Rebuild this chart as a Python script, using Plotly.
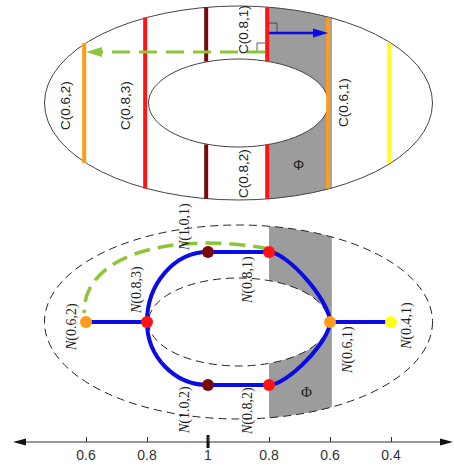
import numpy as np
import plotly.graph_objects as go

# ---------------- data ----------------
tick_index = [0, 1, 2, 3, 4, 5]
tick_labels = ["0.6", "0.8", "1", "0.8", "0.6", "0.4"]
column_level = ["0.6", "0.8", "1.0", "0.8", "0.6", "0.4"]

contour_labels = ["C(0.6,2)", "C(0.8,3)", "C(0.8,1)", "C(0.8,2)", "C(0.6,1)"]
node_labels = ["N(0.6,2)", "N(0.8,3)", "N(1.0,1)", "N(0.8,1)",
               "N(0.6,1)", "N(0.4,1)", "N(1.0,2)", "N(0.8,2)"]
node_level = ["0.6", "0.8", "1.0", "0.8", "0.6", "0.4", "1.0", "0.8"]
node_col = [0, 1, 2, 3, 4, 5, 2, 3]
node_row = ["mid", "mid", "top", "top", "mid", "mid", "bot", "bot"]
edges_straight = [(0, 1), (2, 3), (4, 5), (6, 7)]
edges_left = [(1, 2), (1, 6)]
edges_right = [(3, 4), (7, 4)]

level_color = {"0.4": "#FFFF1A", "0.6": "#FF9C1A", "0.8": "#FF1414", "1.0": "#7A0A0A"}
BLUE = "#0B0BE6"
GREEN = "#8CC43A"
GRAY = "#9C9C9C"

# ---------------- geometry (layout) ----------------
W, H = 454, 473
PX0, PXU = 86.0, 61.0
def u(px):
    return (px - PX0) / PXU

CX = 2.5
RX_IN = 90 / PXU
RX_OUT = 194 / PXU
CY_TOP, CY_BOT = 103, 322
RY_OUT, RY_IN = 97, 44
row_y = {"top": 252, "mid": 322, "bot": 385}
AXIS_Y = 442

def half(dx, rx, ry):
    v = 1 - (dx / rx) ** 2
    return ry * np.sqrt(max(v, 0))

shapes = []

def ring_slice(cy, a, b):
    us = np.linspace(a, b, 40)
    top = [(x, cy - half(x - CX, RX_OUT, RY_OUT)) for x in us]
    bot = [(x, cy + half(x - CX, RX_OUT, RY_OUT)) for x in us[::-1]]
    pts = top + bot
    return "M " + " L ".join(f"{x:.4f},{y:.2f}" for x, y in pts) + " Z"

for cy in (CY_TOP, CY_BOT):
    shapes.append(dict(type="path", path=ring_slice(cy, 3, 4.03), fillcolor=GRAY,
                       line=dict(width=0), layer="below"))
    shapes.append(dict(type="circle", x0=CX - RX_IN, x1=CX + RX_IN, y0=cy - RY_IN, y1=cy + RY_IN,
                       fillcolor="white", line=dict(width=0), layer="below"))

# top outlines
for rx, ry in ((RX_OUT, RY_OUT), (RX_IN, RY_IN)):
    shapes.append(dict(type="circle", x0=CX - rx, x1=CX + rx, y0=CY_TOP - ry, y1=CY_TOP + ry,
                       line=dict(color="#444444", width=1), layer="below"))
# bottom dashed outlines
for rx, ry in ((RX_OUT, RY_OUT), (RX_IN, RY_IN)):
    shapes.append(dict(type="circle", x0=CX - rx, x1=CX + rx, y0=CY_BOT - ry, y1=CY_BOT + ry,
                       line=dict(color="#222222", width=1, dash="8px,5px"), layer="below"))

# top contour lines
for i, lev in zip(tick_index, column_level):
    dx = i - CX
    ho = half(dx, RX_OUT, RY_OUT)
    col = level_color[lev]
    if abs(dx) < RX_IN - 0.03:
        hi = half(dx, RX_IN, RY_IN)
        segs = [(CY_TOP - ho, CY_TOP - hi), (CY_TOP + hi, CY_TOP + ho)]
    else:
        segs = [(CY_TOP - ho, CY_TOP + ho)]
    for y0, y1 in segs:
        shapes.append(dict(type="line", x0=i - 0.03, x1=i - 0.03, y0=y0, y1=y1,
                           line=dict(color=col, width=4), layer="below"))

# right-angle marks
shapes.append(dict(type="path", path=f"M {u(269)},{23} L {u(277)},{23} L {u(277)},{33}",
                   line=dict(color="#333", width=0.8), layer="below"))
shapes.append(dict(type="path", path=f"M {u(257)},{52} L {u(257)},{43} L {u(265)},{43}",
                   line=dict(color="#333", width=0.8), layer="below"))

# blue arrow
shapes.append(dict(type="line", x0=u(269), x1=u(315), y0=33, y1=33,
                   line=dict(color=BLUE, width=2.5), layer="below"))
shapes.append(dict(type="path", path=f"M {u(328)},33 L {u(313)},28.5 L {u(313)},37.5 Z",
                   fillcolor=BLUE, line=dict(width=0), layer="below"))
# green dashed arrow
shapes.append(dict(type="line", x0=u(265), x1=u(100), y0=52, y1=52,
                   line=dict(color=GREEN, width=3, dash="18px,9px"), layer="below"))
shapes.append(dict(type="path", path=f"M {u(86)},52 L {u(102)},47 L {u(102)},57 Z",
                   fillcolor=GREEN, line=dict(width=0), layer="below"))

# network edges
def P(k):
    return node_col[k], row_y[node_row[k]]

for a, b in edges_straight:
    (x0, y0), (x1, y1) = P(a), P(b)
    shapes.append(dict(type="line", x0=x0, x1=x1, y0=y0, y1=y1,
                       line=dict(color=BLUE, width=4), layer="below"))
K = 0.55
for a, b in edges_left:
    (x0, y0), (x1, y1) = P(a), P(b)
    path = (f"M {x0},{y0} C {x0},{y0 + K * (y1 - y0)} {x1 - K * (x1 - x0)},{y1} {x1},{y1}")
    shapes.append(dict(type="path", path=path, line=dict(color=BLUE, width=4), layer="below"))
K2 = 0.3
for a, b in edges_right:
    (x0, y0), (x1, y1) = P(a), P(b)
    path = (f"M {x0},{y0} C {x0 + K2 * (x1 - x0)},{y0} {x1},{y1 - K2 * (y1 - y0)} {x1},{y1}")
    shapes.append(dict(type="path", path=path, line=dict(color=BLUE, width=4), layer="below"))

# green dashed path in network
shapes.append(dict(type="path",
                   path=f"M 3,249 C 1.6,232 -0.05,250 -0.03,313",
                   line=dict(color=GREEN, width=3.5, dash="16px,8px"), layer="below"))

# axis line with arrows
shapes.append(dict(type="line", x0=u(20), x1=u(446), y0=AXIS_Y, y1=AXIS_Y,
                   line=dict(color="#333", width=1), layer="below"))
shapes.append(dict(type="path", path=f"M {u(13)},{AXIS_Y} L {u(26)},{AXIS_Y-3.5} L {u(26)},{AXIS_Y+3.5} Z",
                   fillcolor="#111", line=dict(width=0), layer="below"))
shapes.append(dict(type="path", path=f"M {u(453)},{AXIS_Y} L {u(440)},{AXIS_Y-3.5} L {u(440)},{AXIS_Y+3.5} Z",
                   fillcolor="#111", line=dict(width=0), layer="below"))
shapes.append(dict(type="line", x0=2, x1=2, y0=435, y1=448,
                   line=dict(color="#111", width=3), layer="below"))

fig = go.Figure()
fig.add_trace(go.Scatter(
    x=node_col, y=[row_y[r] for r in node_row], mode="markers",
    marker=dict(size=12, color=[level_color[l] for l in node_level], line=dict(width=0)),
    hoverinfo="text", text=node_labels, showlegend=False))

annotations = []
sans = dict(family="Liberation Sans, Arial", size=13.5, color="#222")
serif = dict(family="Liberation Serif, Times New Roman", size=14, color="#222")
c_pos = [(u(65), 106), (u(125), 106), (u(243), 30), (u(243), 174), (u(343), 103)]
for t, (x, y) in zip(contour_labels, c_pos):
    annotations.append(dict(x=x, y=y, text=t, showarrow=False, textangle=-90, font=sans))
annotations.append(dict(x=u(298), y=165, text="Φ", showarrow=False, font=dict(family="Liberation Sans", size=14, color="#222")))
annotations.append(dict(x=u(306), y=392, text="Φ", showarrow=False, font=dict(family="Liberation Serif", size=15, color="#222")))
n_pos = [(u(72), 327), (u(137), 290), (u(185), 227), (u(248), 280),
         (u(348), 350), (u(407), 326), (u(185), 410), (u(248), 411)]
for t, (x, y) in zip(node_labels, n_pos):
    txt = "<i>N</i>" + t[1:]
    annotations.append(dict(x=x, y=y, text=txt, showarrow=False, textangle=-90, font=serif))

fig.update_layout(
    width=W, height=H, margin=dict(l=0, r=0, t=0, b=0, autoexpand=False),
    paper_bgcolor="white", plot_bgcolor="white",
    shapes=shapes, annotations=annotations, showlegend=False,
    xaxis=dict(range=[u(0), u(W)], showgrid=False, zeroline=False, showline=False,
               tickvals=tick_index, ticktext=tick_labels, ticks="inside", ticklen=5,
               tickcolor="#333", tickwidth=1, anchor="free", position=(H - AXIS_Y) / H,
               tickfont=dict(family="Liberation Sans, Arial", size=14, color="#333"),
               ticklabelstandoff=3, fixedrange=True, automargin=False),
    yaxis=dict(range=[H, 0], showgrid=False, zeroline=False, showticklabels=False,
               ticks="", showline=False, domain=[0, 1], fixedrange=True, automargin=False),
)

fig.write_html("out.html", config={"displayModeBar": False},
               post_script="document.body.style.margin='0';document.body.style.overflow='hidden';")
